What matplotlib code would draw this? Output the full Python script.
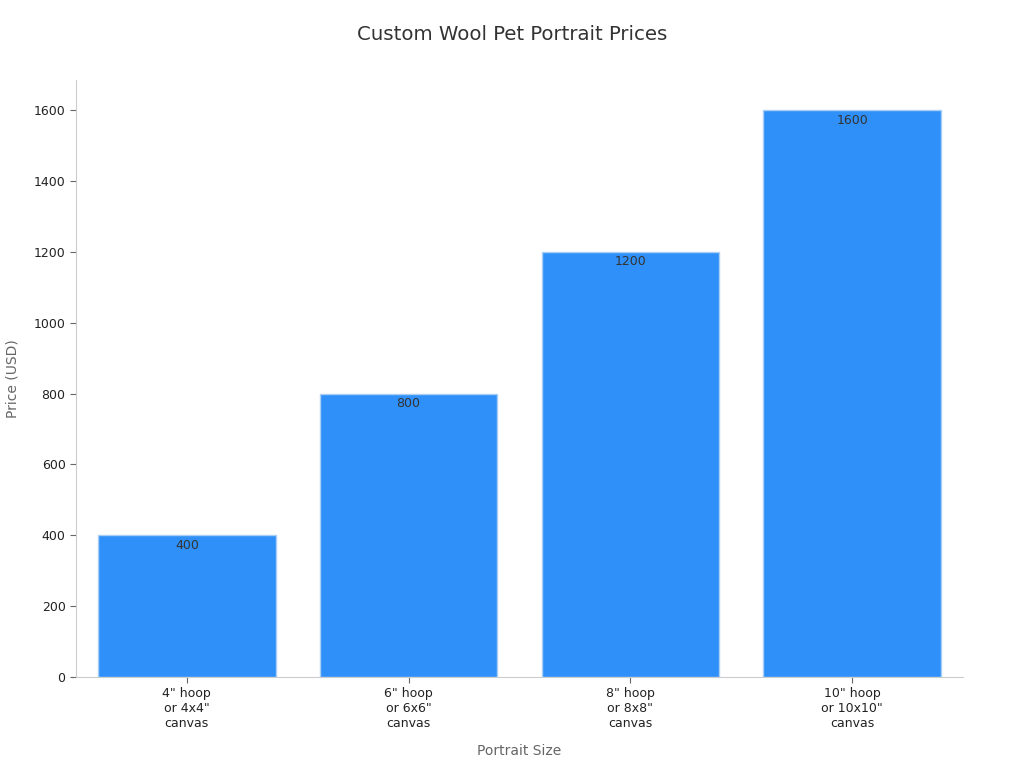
import matplotlib.pyplot as plt

# data
sizes = ['4" hoop\nor 4x4"\ncanvas', '6" hoop\nor 6x6"\ncanvas',
         '8" hoop\nor 8x8"\ncanvas', '10" hoop\nor 10x10"\ncanvas']
prices = [400, 800, 1200, 1600]

fig = plt.figure(figsize=(10.24, 7.68), dpi=100)
ax = fig.add_axes([0.0742, 0.1185, 0.8662, 0.7773])

bars = ax.bar(range(len(sizes)), prices, width=0.8, color="#2E90F8",
              edgecolor="#A9CFF5", linewidth=1)

for i, v in enumerate(prices):
    ax.text(i, v - 10, str(v), ha="center", va="top", fontsize=9, color="#333333")

ax.set_xlim(-0.5, 3.5)
ax.set_ylim(0, 1685)
ax.set_xticks(range(len(sizes)))
ax.set_xticklabels(sizes, fontsize=9, color="#222222")
ax.set_yticks(range(0, 1601, 200))
ax.tick_params(axis="y", labelsize=9, colors="#222222")
ax.tick_params(axis="both", color="#666666", length=4)

for s in ["top", "right"]:
    ax.spines[s].set_visible(False)
for s in ["left", "bottom"]:
    ax.spines[s].set_color("#CCCCCC")

ax.set_xlabel("Portrait Size", fontsize=10, color="#666666", labelpad=10)
ax.set_ylabel("Price (USD)", fontsize=10, color="#666666", labelpad=10)
fig.suptitle("Custom Wool Pet Portrait Prices", fontsize=14.2, color="#333333", y=0.968)

plt.savefig("out.png", dpi=100)
